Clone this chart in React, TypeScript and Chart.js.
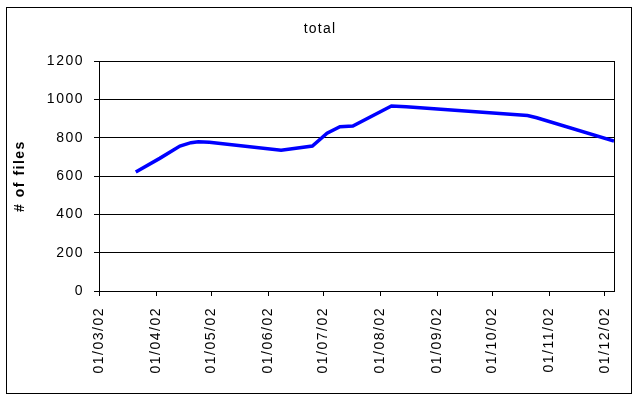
import React, { useEffect, useRef } from "react";
import { Chart, registerables } from "chart.js";

Chart.register(...registerables);

const chartTitle = "total";
const yAxisTitle = "# of files";
const pointDates = [
  "21/03/02", "03/04/02", "14/04/02", "20/04/02", "24/04/02", "30/04/02",
  "08/06/02", "25/06/02", "03/07/02", "10/07/02", "17/07/02", "07/08/02",
  "15/08/02", "20/10/02", "25/10/02", "06/12/02",
];
const totalFiles = [621, 692, 756, 774, 779, 776, 735, 756, 823, 857, 861, 965, 961, 916, 904, 782];
const tickDates = [
  "01/03/02", "01/04/02", "01/05/02", "01/06/02", "01/07/02",
  "01/08/02", "01/09/02", "01/10/02", "01/11/02", "01/12/02",
];
const axisStart = "01/03/02";
const axisEnd = "06/12/02";

function dayNum(s: string): number {
  const [d, m, y] = s.split("/").map(Number);
  return Date.UTC(2000 + y, m - 1, d) / 86400000;
}
const base = dayNum(axisStart);
const toX = (s: string) => dayNum(s) - base;

const FONT = "'Liberation Sans', Arial, sans-serif";

export default function App() {
  const ref = useRef<HTMLCanvasElement>(null);
  useEffect(() => {
    if (!ref.current) return;
    const tickVals = tickDates.map(toX);
    const framePlugin = {
      id: "frame",
      beforeDraw(chart: any) {
        const ctx = chart.ctx;
        ctx.save();
        ctx.fillStyle = "#ffffff";
        ctx.fillRect(0, 0, chart.width, chart.height);
        ctx.restore();
        (ctx as any).letterSpacing = "1.5px";
      },
      afterDraw(chart: any) {
        const ctx = chart.ctx;
        const a = chart.chartArea;
        ctx.save();
        ctx.strokeStyle = "#000000";
        ctx.lineWidth = 1;
        ctx.strokeRect(Math.round(a.left) + 0.5, Math.round(a.top) + 0.5, Math.round(a.right - a.left), Math.round(a.bottom - a.top));
        ctx.strokeRect(6.5, 7.5, 625, 386);
        (ctx as any).letterSpacing = "1.2px";
        ctx.fillStyle = "#000000";
        ctx.font = `14px ${FONT}`;
        ctx.textAlign = "center";
        ctx.textBaseline = "alphabetic";
        ctx.fillText(chartTitle, 320, 33);
        ctx.restore();
      },
    };
    const chart = new Chart(ref.current, {
      type: "line",
      data: {
        datasets: [
          {
            label: chartTitle,
            data: pointDates.map((d, i) => ({ x: toX(d), y: totalFiles[i] })),
            borderColor: "#0000ff",
            borderWidth: 3.5,
            pointRadius: 0,
            tension: 0,
            fill: false,
          },
        ],
      },
      options: {
        responsive: false,
        animation: false,
        devicePixelRatio: 1,
        layout: { padding: { left: 0, top: 61, right: 26, bottom: 0 } },
        plugins: {
          legend: { display: false },
          title: { display: false },
          tooltip: { enabled: false },
        },
        scales: {
          x: {
            type: "linear",
            min: 0,
            max: toX(axisEnd),
            afterFit(scale: any) {
              scale.height = 109;
            },
            afterBuildTicks(scale: any) {
              scale.ticks = tickVals.map((v) => ({ value: v }));
            },
            ticks: {
              autoSkip: false,
              maxRotation: 90,
              minRotation: 90,
              padding: 11,
              color: "#000000",
              font: { family: FONT, size: 14 },
              callback: (v: any) => {
                const i = tickVals.indexOf(Number(v));
                return i >= 0 ? tickDates[i] : "";
              },
            },
            grid: {
              drawOnChartArea: false,
              drawTicks: true,
              tickLength: 5,
              color: "#000000",
            },
            border: { display: true, color: "#000000", width: 1 },
          },
          y: {
            min: 0,
            max: 1200,
            afterFit(scale: any) {
              scale.width = 99;
            },
            ticks: {
              stepSize: 200,
              padding: 10,
              color: "#000000",
              font: { family: FONT, size: 14 },
              callback: (v: any) => String(v),
            },
            grid: {
              color: "#000000",
              lineWidth: 1,
              tickLength: 5,
              drawTicks: true,
            },
            border: { display: true, color: "#000000", width: 1 },
            title: {
              display: true,
              text: yAxisTitle,
              color: "#000000",
              font: { family: FONT, size: 14, weight: "bold" },
              padding: { top: 12, bottom: 0 },
            },
          },
        },
      },
      plugins: [framePlugin],
    });
    return () => chart.destroy();
  }, []);
  return (
    <div style={{ position: "fixed", left: 0, top: 0, width: 640, height: 400, background: "#fff" }}>
      <canvas ref={ref} width={640} height={400} style={{ display: "block" }} />
    </div>
  );
}
